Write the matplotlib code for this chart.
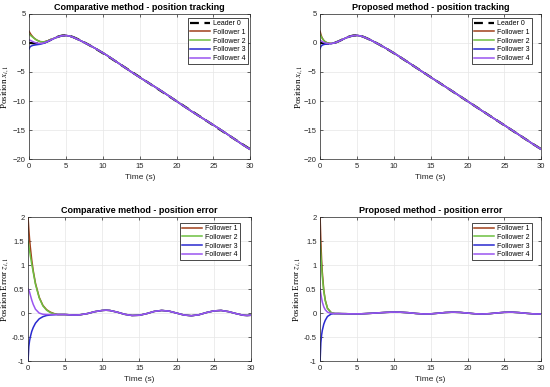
import numpy as np
import matplotlib
matplotlib.use("Agg")
import matplotlib.pyplot as plt

# sample times (s)
t = [0, 0.1, 0.2, 0.3, 0.5, 0.7, 1, 1.5, 2, 2.5, 3, 3.5, 4, 4.5, 5, 5.5, 6, 6.5, 7,
     8, 9, 10, 10.5, 11, 12, 13, 14, 15, 16, 17, 18, 19, 20, 21, 22, 23, 24, 25,
     26, 27, 28, 29, 29.5, 30]

# leader position x_0
leader = [0, 0, -0.01, -0.02, -0.04, -0.07, -0.1, -0.1, 0.03, 0.28, 0.58, 0.88,
          1.12, 1.28, 1.32, 1.22, 1.0, 0.72, 0.42, -0.25, -0.98, -1.75, -2.15,
          -2.56, -3.39, -4.22, -5.05, -5.88, -6.71, -7.54, -8.37, -9.2, -10.03,
          -10.86, -11.69, -12.52, -13.35, -14.18, -15.01, -15.84, -16.67, -17.5,
          -17.9, -18.3]

# comparative method: errors (transient part up to 3.5 s, then common part)
comp_tail = [-0.03, -0.03, -0.03, -0.035, -0.04, -0.04, -0.035, -0.01, 0.03, 0.055,
             0.06, 0.055, 0.02, -0.025, -0.05, -0.045, -0.01, 0.035, 0.055, 0.04,
             0.0, -0.04, -0.055, -0.035, 0.01, 0.045, 0.055, 0.03, -0.01, -0.045,
             -0.05, -0.045]
comp_f1 = [2.0, 1.75, 1.55, 1.38, 1.1, 0.88, 0.62, 0.33, 0.16, 0.07, 0.02, -0.01] + comp_tail
comp_f2 = [1.5, 1.4, 1.3, 1.2, 1.02, 0.85, 0.6, 0.32, 0.15, 0.06, 0.01, -0.015] + comp_tail
comp_f3 = [-1.0, -0.7, -0.58, -0.5, -0.38, -0.3, -0.21, -0.12, -0.075, -0.05, -0.04, -0.035] + comp_tail
comp_f4 = [0.5, 0.48, 0.44, 0.38, 0.27, 0.18, 0.08, 0.0, -0.025, -0.03, -0.03, -0.03] + comp_tail

# proposed method: errors (transient part up to 1.5 s, then common part)
prop_tail = [-0.01, -0.01, -0.012, -0.013, -0.015, -0.016, -0.016, -0.015, -0.012,
             -0.008, -0.004, 0.006, 0.015, 0.02, 0.02, 0.017, 0.008, -0.008, -0.018,
             -0.016, -0.003, 0.012, 0.019, 0.014, 0.0, -0.014, -0.019, -0.012, 0.003,
             0.016, 0.019, 0.01, -0.005, -0.017, -0.019, -0.018]
prop_f1 = [2.0, 1.5, 1.12, 0.85, 0.48, 0.27, 0.1, 0.01] + prop_tail
prop_f2 = [1.5, 1.22, 0.98, 0.76, 0.45, 0.26, 0.1, 0.01] + prop_tail
prop_f3 = [-1.0, -0.62, -0.46, -0.36, -0.23, -0.15, -0.07, -0.02] + prop_tail
prop_f4 = [0.5, 0.4, 0.31, 0.23, 0.13, 0.07, 0.02, -0.005] + prop_tail

names = ["Follower 1", "Follower 2", "Follower 3", "Follower 4"]
colors = ["#a0401a", "#6cc040", "#2a2ad0", "#9a55f0"]

plt.rcParams['font.family'] = ['Liberation Sans', 'DejaVu Sans']
plt.rcParams['mathtext.fontset'] = 'stix'

W, H = 550, 387
fig = plt.figure(figsize=(5.5, 3.87), dpi=100)
boxes = [[0.053, 0.589, 0.402, 0.375], [0.582, 0.589, 0.402, 0.375],
         [0.051, 0.067, 0.405, 0.372], [0.582, 0.067, 0.402, 0.372]]
axes = [fig.add_axes(b) for b in boxes]

# legend upper-right corners (pixels) and y-label x positions (axes fraction)
leg_corner = [(248, 18), (532, 18), (240, 223), (532, 223)]
ylab_x = [-0.08, -0.068, -0.076, -0.077]

tt = np.array(t)
lead = np.array(leader)
sets = [(comp_f1, comp_f2, comp_f3, comp_f4), (prop_f1, prop_f2, prop_f3, prop_f4)]
titles = ["Comparative method - position tracking", "Proposed method - position tracking",
          "Comparative method - position error", "Proposed method - position error"]

for k, ax in enumerate(axes):
    errs = sets[k % 2]
    if k < 2:
        for e, c, n in zip(errs, colors, names):
            ax.plot(tt, lead + np.array(e), color=c, lw=1.1, label=n)
        ax.plot(tt, lead, color="black", lw=1.6, ls=(0, (4, 2.5)), label="Leader 0", zorder=1)
        ax.set_ylim(-20, 5)
        ax.set_yticks([-20, -15, -10, -5, 0, 5])
        ax.set_ylabel(r"Position $x_{i,1}$", family="Liberation Serif", fontsize=6.5)
        h, l = ax.get_legend_handles_labels()
        h = [h[-1]] + h[:-1]
        l = [l[-1]] + l[:-1]
    else:
        for e, c, n in zip(errs, colors, names):
            ax.plot(tt, e, color=c, lw=1.1, label=n)
        ax.set_ylim(-1, 2)
        ax.set_yticks([-1, -0.5, 0, 0.5, 1, 1.5, 2])
        ax.set_yticklabels(["-1", "-0.5", "0", "0.5", "1", "1.5", "2"])
        ax.set_ylabel(r"Position Error $z_{i,1}$", family="Liberation Serif", fontsize=6.5)
        h, l = ax.get_legend_handles_labels()
    ax.yaxis.set_label_coords(ylab_x[k], 0.5)
    ax.set_xlim(0, 30)
    ax.set_xticks([0, 5, 10, 15, 20, 25, 30])
    ax.set_xlabel("Time (s)", fontsize=6, labelpad=3, color="#262626")
    ax.set_title(titles[k], fontsize=6.5, fontweight="bold", pad=3)
    ax.grid(True, color="#e6e6e6", lw=0.5)
    ax.set_axisbelow(True)
    ax.tick_params(direction="in", length=2, width=0.5, labelsize=5.5, colors="#262626",
                   top=True, right=True, pad=2.5)
    for s in ax.spines.values():
        s.set_linewidth(0.5)
        s.set_color("#262626")
    cx, cy = leg_corner[k]
    leg = ax.legend(h, l, loc="upper right", bbox_to_anchor=(cx / W, 1 - cy / H),
                    bbox_transform=fig.transFigure, fontsize=5, frameon=True,
                    fancybox=False, edgecolor="black", framealpha=1, borderpad=0.3,
                    labelspacing=0.25, handlelength=2.8, handletextpad=0.5,
                    borderaxespad=0)
    leg.get_frame().set_linewidth(0.5)

fig.savefig("out.png", dpi=100)
